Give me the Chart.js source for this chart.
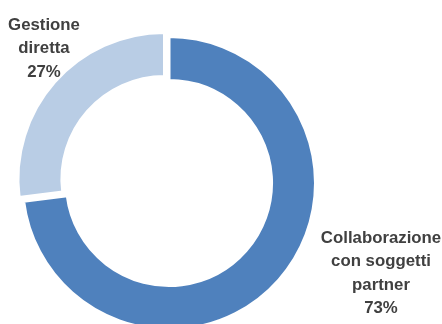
<!DOCTYPE html>
<html>
<head>
<meta charset="utf-8">
<script src="https://cdn.jsdelivr.net/npm/chart.js@4"></script>
<style>
   html, body { margin: 0; padding: 0; background: #fff; }
   #wrap { width: 442px; height: 324px; position: relative; overflow: hidden; }
</style>
</head>
<body>
<div id="wrap"><canvas id="chart" width="442" height="324"></canvas></div>
<script>
const categories = [
   ["Collaborazione", "con soggetti", "partner"],
   ["Gestione", "diretta"],
];
const shares = [73, 27];
const sliceColors = ["#4F81BD", "#B9CDE5"];

// where each label block sits (first baseline, centre x)
const labelAnchors = [
   { x: 381, y: 243 },
   { x: 44, y: 30 },
];

const sliceLabels = {
   id: "sliceLabels",
   afterDatasetsDraw(chart) {
      const { ctx } = chart;
      const values = chart.data.datasets[0].data;
      const total = values.reduce((a, b) => a + b, 0);
      ctx.save();
      ctx.font = "bold 16.8px 'Liberation Sans', Arial, sans-serif";
      ctx.fillStyle = "#404040";
      ctx.textAlign = "center";
      ctx.textBaseline = "alphabetic";
      chart.data.labels.forEach((lines, i) => {
         const pct = `${Math.round((values[i] / total) * 100)}%`;
         const { x, y } = labelAnchors[i];
         [...lines, pct].forEach((line, j) => {
            ctx.fillText(line, x, y + j * 23.3);
         });
      });
      ctx.restore();
   },
};

const data = {
   labels: categories,
   datasets: [
      {
         data: shares,
         backgroundColor: sliceColors,
         borderColor: "#ffffff",
         borderWidth: 3,
         offset: [0, 24],
      },
   ],
};

const config = {
   type: "doughnut",
   data: data,
   options: {
      responsive: false,
      animation: false,
      radius: 146.5,
      cutout: "70%",
      layout: { padding: { left: 0, right: 104, top: 42, bottom: 0 } },
      events: [],
      plugins: {
         legend: { display: false },
         tooltip: { enabled: false },
      },
   },
   plugins: [sliceLabels],
};

const myChart = new Chart(document.getElementById("chart"), config);
</script>
</body>
</html>
